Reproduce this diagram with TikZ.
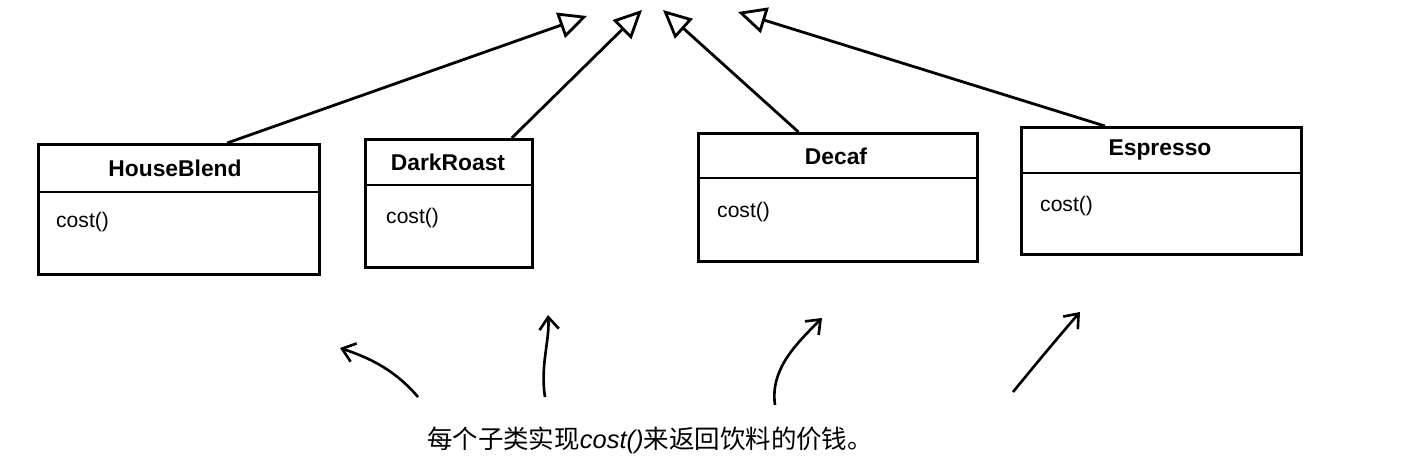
\documentclass[tikz,border=0pt]{standalone}
\usepackage{fontspec}
\setmainfont{Liberation Sans}
\newfontfamily\cjk{Noto Sans CJK SC}
\usetikzlibrary{arrows.meta,calc}
\begin{document}
\begin{tikzpicture}[x=0.02cm,y=-0.02cm,
  box/.style={draw,line width=1.6pt,anchor=north west,inner sep=0pt},
  title/.style={font=\bfseries\fontsize{13}{15}\selectfont},
  meth/.style={font=\fontsize{12}{14}\selectfont,anchor=west},
  inh/.style={line width=1.6pt,-{Triangle[open,length=16pt,width=15pt,line width=1.6pt]}},
  hand/.style={line width=1.5pt,-{Straight Barb[length=7pt,width=11pt,line width=1.5pt]}}]
\useasboundingbox (0,0) rectangle (1404,476);
% boxes
\node[box,minimum width=281*0.02cm,minimum height=130*0.02cm] (hb) at (37,143) {};
\node[box,minimum width=167*0.02cm,minimum height=128*0.02cm] (dr) at (364,138) {};
\node[box,minimum width=279*0.02cm,minimum height=128*0.02cm] (dc) at (697,132) {};
\node[box,minimum width=280*0.02cm,minimum height=127*0.02cm] (es) at (1020,126) {};
\draw[line width=1.3pt] (37,192) -- (318,192);
\draw[line width=1.3pt] (364,185) -- (531,185);
\draw[line width=1.3pt] (697,178) -- (976,178);
\draw[line width=1.3pt] (1020,173) -- (1300,173);
\node[title] (hbt) at (175,168) {HouseBlend};
\node[title] (drt) at (448,162) {DarkRoast};
\node[title] (dct) at (836,156) {Decaf};
\node[title] (est) at (1160,150) {Espresso};
\node[meth] (hbm) at (50,222) {cost()};
\node[meth] (drm) at (380,218) {cost()};
\node[meth] (dcm) at (711,212) {cost()};
\node[meth] (esm) at (1034,206) {cost()};
% inheritance arrows
\coordinate (t1) at (587,16);
\coordinate (t2) at (642,10);
\coordinate (t3) at (663,10);
\coordinate (t4) at (738,12);
\draw[inh] ($(hb.north west)!0.67!(hb.north east)$) -- (t1);
\draw[inh] ($(dr.north west)!0.87!(dr.north east)$) -- (t2);
\draw[inh] ($(dc.north west)!0.36!(dc.north east)$) -- (t3);
\draw[inh] ($(es.north west)!0.30!(es.north east)$) -- (t4);
% hand arrows
\coordinate (a1) at (418,397); \coordinate (b1) at (340,348);
\coordinate (a2) at (545,397); \coordinate (b2) at (548,315);
\coordinate (a3) at (775,405); \coordinate (b3) at (822,318);
\coordinate (a4) at (1013,392); \coordinate (b4) at (1080,312);
\draw[hand] (a1) .. controls (395,370) and (370,358) .. (b1);
\draw[hand] (a2) .. controls (540,365) and (550,340) .. (b2);
\draw[hand] (a3) .. controls (770,370) and (795,345) .. (b3);
\draw[hand] (a4) .. controls (1035,365) and (1060,335) .. (b4);
\node[font=\cjk\fontsize{14.5}{16}\selectfont] (cap) at (650,440) {每个子类实现{\rmfamily\itshape cost()}来返回饮料的价钱。};
\end{tikzpicture}
\end{document}
